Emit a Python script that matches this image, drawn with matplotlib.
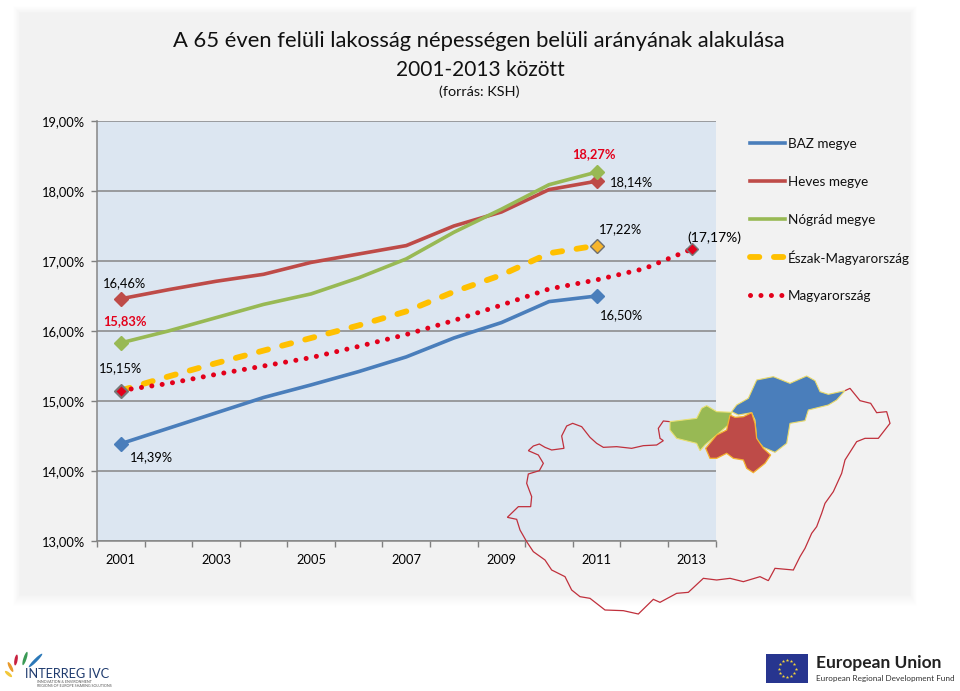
#!/usr/bin/python
import numpy as np
import matplotlib
matplotlib.use('Agg')
from matplotlib import pyplot as plt
from matplotlib.patches import Polygon, Ellipse, Rectangle

plt.rcParams['font.family'] = ['Lato', 'DejaVu Sans']

years = [2001, 2002, 2003, 2004, 2005, 2006, 2007, 2008, 2009, 2010, 2011, 2012, 2013]
baz = [14.39, 14.61, 14.83, 15.05, 15.23, 15.42, 15.63, 15.90, 16.12, 16.42, 16.50]
heves = [16.46, 16.59, 16.71, 16.81, 16.98, 17.10, 17.22, 17.50, 17.70, 18.02, 18.14]
nograd = [15.83, 16.00, 16.19, 16.38, 16.53, 16.76, 17.03, 17.41, 17.74, 18.09, 18.27]
eszak = [15.15, 15.35, 15.54, 15.72, 15.90, 16.08, 16.28, 16.56, 16.80, 17.11, 17.22]
orszag = [15.15, 15.25, 15.38, 15.50, 15.62, 15.78, 15.95, 16.15, 16.37, 16.60, 16.73, 16.89, 17.17]
y_ticks = [13, 14, 15, 16, 17, 18, 19]

BLUE = '#4A7EBB'
RED = '#BE4B48'
GREEN = '#98B954'
YELLOW = '#FFC000'
DOTRED = '#E3001B'
FS = 9.3
DASHED = (0, (1.6, 2.5))
DOTTED = (0, (0.01, 2.08))

# map, zoomed crop coordinates
map_outline = [(510,185),(490,183),(475,205),(480,235),(490,242),(470,255),(430,257),(395,265),(350,260),
  (310,262),(290,250),(270,232),(245,200),(218,190),(200,198),(185,228),(192,265),(155,270),(135,262),
  (118,252),(100,258),(85,272),(115,285),(130,310),(118,332),(85,342),(80,370),(95,410),(92,440),(55,440),
  (22,472),(50,478),(60,510),(80,545),(100,575),(135,600),(155,630),(195,650),(215,690),(240,710),(270,715),
  (315,750),(370,752),(415,762),(460,718),(480,727),(530,700),(565,697),(610,655),(650,660),(690,655),
  (730,665),(780,650),(805,662),(825,625),(880,630),(900,590),(915,565),(935,520),(950,500),(965,460),
  (975,430),(1000,395),(1025,340),(1035,300),(1070,245),(1095,235),(1135,235),(1170,190),(1160,155),
  (1130,158),(1112,130),(1080,122),(1050,85),(1035,92)]
map_blue = [(695,155),(710,135),(745,115),(770,60),(820,50),(870,70),(920,48),(945,62),(960,95),(985,103),
  (1035,92),(1010,120),(985,135),(925,150),(915,182),(870,190),(860,250),(825,277),(790,262),(770,240),
  (765,180),(755,158),(715,165)]
map_red = [(690,165),(705,172),(730,170),(755,158),(765,190),(770,235),(790,265),(812,285),(795,310),
  (760,338),(740,325),(730,300),(700,295),(680,280),(650,295),(630,295),(617,265),(650,225),(680,210)]
map_green = [(510,185),(590,175),(605,145),(620,137),(650,155),(695,157),(685,195),(650,225),(615,255),
  (600,272),(590,250),(530,235),(510,210)]

fig = plt.figure(figsize=(9.6, 6.91), dpi=100, facecolor='white')

# overlay in pixel coordinates for panel, map and logos
bg = fig.add_axes([0, 0, 1, 1], zorder=0)
bg.axis('off')
xx, yy = np.meshgrid(np.arange(960), np.arange(691))
fade = np.minimum.reduce([(xx - 12) / 8.0, (917 - xx) / 8.0, (yy - 5) / 8.0, (606 - yy) / 12.0])
fade = np.clip(fade, 0, 1)
bg.imshow(255 - 13 * fade, cmap='gray', vmin=0, vmax=255, extent=(0, 960, 691, 0), aspect='auto')
bg.set_xlim(0, 960)
bg.set_ylim(691, 0)

ax = fig.add_axes([97 / 960, 1 - 541 / 691, 618.5 / 960, 420 / 691], zorder=1)
ax.set_facecolor('#DCE6F1')
ax.set_xlim(-0.5, 12.5)
ax.set_ylim(13, 19)
ax.set_yticks(y_ticks)
ax.set_yticklabels(['%d,00%%' % v for v in y_ticks], fontsize=FS)
ax.set_xticks(range(0, 13, 2))
ax.set_xticklabels([str(y) for y in years[::2]], fontsize=FS)
ax.set_xticks(np.arange(-0.5, 13, 1), minor=True)
ax.tick_params(axis='x', which='major', length=0, pad=9.5)
ax.tick_params(axis='x', which='minor', length=4.5, color='#808080', width=1)
ax.tick_params(axis='y', length=4, color='#808080', width=1, pad=4.6)
ax.grid(True, axis='y', color='#868686', linewidth=1.1)
ax.set_axisbelow(True)
for name in ['top', 'right']:
  ax.spines[name].set_visible(False)
for name in ['left', 'bottom']:
  ax.spines[name].set_color('#868686')
  ax.spines[name].set_linewidth(1.1)

x = np.arange(13)
ax.plot(x[:11], baz, color=BLUE, lw=2.6, zorder=3)
ax.plot(x[:11], heves, color=RED, lw=2.6, zorder=3)
ax.plot(x[:11], nograd, color=GREEN, lw=2.6, zorder=4)
ax.plot(x[:11], eszak, color=YELLOW, lw=4.2, ls=DASHED, dash_capstyle='round', zorder=3)
ax.plot(x, orszag, color=DOTRED, lw=3.6, ls=DOTTED, dash_capstyle='round', zorder=4)

for ser, col in [(baz, BLUE), (heves, RED), (nograd, GREEN)]:
  ax.plot([0, 10], [ser[0], ser[-1]], ls='none', marker='D', ms=7, color=col, mec=col, zorder=5, clip_on=False)
ax.plot([0], [eszak[0]], ls='none', marker='D', ms=7, color=BLUE, mec='#777777', zorder=5)
ax.plot([10], [eszak[-1]], ls='none', marker='D', ms=7, color='#F7B52C', mec='#6E6E6E', zorder=5)
ax.plot([0, 12], [orszag[0], orszag[-1]], ls='none', marker='D', ms=6.5, color=DOTRED, mec='#777777', zorder=6)

# data labels, offset in points from the value
labels = [
  (0, heves[0], '16,46%', 3, 11, 'black', 'normal', FS),
  (0, nograd[0], '15,83%', 3, 16, DOTRED, 'bold', FS),
  (0, eszak[0], '15,15%', 0, 16, 'black', 'normal', FS),
  (0, baz[0], '14,39%', 22, -10, 'black', 'normal', FS),
  (10, nograd[10], '18,27%', -2, 13, DOTRED, 'bold', FS),
  (10, heves[10], '18,14%', 25, -1, 'black', 'normal', FS),
  (10, eszak[10], '17,22%', 17, 12, 'black', 'normal', FS),
  (10, baz[10], '16,50%', 18, -14, 'black', 'normal', FS),
  (12, orszag[12], '(17,17%)', 16, 8.5, 'black', 'normal', 10),
]
for i, v, txt, dx, dy, col, weight, size in labels:
  ax.annotate(txt, (i, v), xytext=(dx, dy), textcoords='offset points', ha='center', va='center',
              fontsize=size, color=col, fontweight=weight, zorder=7, annotation_clip=False)

fig.text(479 / 960, 1 - 41 / 691, 'A 65 éven felüli lakosság népességen belüli arányának alakulása',
         ha='center', va='center', fontsize=15.8, color='#111111')
fig.text(480 / 960, 1 - 70 / 691, '2001-2013 között', ha='center', va='center', fontsize=15, color='#111111')
fig.text(479 / 960, 1 - 92 / 691, '(forrás: KSH)', ha='center', va='center', fontsize=10.4, color='#111111')

# map, legend and logos on top
top = fig.add_axes([0, 0, 1, 1], zorder=3)
top.set_xlim(0, 960)
top.set_ylim(691, 0)
top.axis('off')

# legend by hand, the accent in Észak breaks the even row spacing of fig.legend
leg_names = ['BAZ megye', 'Heves megye', 'Nógrád megye', 'Észak-Magyarország', 'Magyarország']
leg_styles = [dict(color=BLUE, lw=2.6), dict(color=RED, lw=2.6), dict(color=GREEN, lw=2.6),
              dict(color=YELLOW, lw=4.2, ls=DASHED, dash_capstyle='round'),
              dict(color=DOTRED, lw=3.6, ls=DOTTED, dash_capstyle='round')]
for k, (name, style) in enumerate(zip(leg_names, leg_styles)):
  row = 143 + 38 * k
  top.plot([750, 785], [row, row], **style)
  top.text(788, row, name, fontsize=9.7, va='center_baseline', ha='left', color='#111111')

def to_px(pts):
  return [(500 + a / 3.0, 360 + b / 3.0) for a, b in pts]

top.add_patch(Polygon(to_px(map_outline), closed=False, fill=False, edgecolor='#C0303C', lw=0.9))
top.add_patch(Polygon(to_px(map_blue), closed=True, facecolor=BLUE, edgecolor='#E8D96A', lw=0.8))
top.add_patch(Polygon(to_px(map_green), closed=True, facecolor=GREEN, edgecolor='#E8E070', lw=0.8))
top.add_patch(Polygon(to_px(map_red), closed=True, facecolor=RED, edgecolor='#F5B330', lw=0.9))

# interreg feathers: centre x, centre y, length, tilt, colour
feathers = [(35.5, 660.5, 19, 45, '#2B78B8'), (25, 658.5, 14, 72, '#3A9A55'), (16, 660, 11, 80, '#C8203F'),
            (10.5, 667, 11, 117, '#E89A2C'), (8.5, 674, 9, 140, '#F2C83A')]
for cx, cy, ln, tilt, col in feathers:
  top.add_patch(Ellipse((cx, cy), ln, 3.2, angle=-tilt, facecolor=col, edgecolor='none'))
top.text(25, 674, 'INTERREG IVC', fontsize=9.2, color='#1F3B6E', va='center', ha='left')
top.text(37, 682, 'INNOVATION & ENVIRONMENT', fontsize=2.6, color='#555555', va='center')
top.text(37, 686, 'REGIONS OF EUROPE SHARING SOLUTIONS', fontsize=2.6, color='#555555', va='center')

top.add_patch(Rectangle((766, 654), 42, 29, facecolor='#27358F', edgecolor='none'))
ang = np.arange(12) * np.pi / 6
top.plot(787 + 8.5 * np.cos(ang), 668.5 + 8.5 * np.sin(ang), ls='none', marker='*', ms=2.6, color='#F4D53A', mew=0)
top.text(816, 663, 'European Union', fontsize=12.5, fontweight='bold', color='#222222', va='center')
top.text(816, 678, 'European Regional Development Fund', fontsize=5.9, color='#333333', va='center')

fig.savefig('out.png', dpi=100)
